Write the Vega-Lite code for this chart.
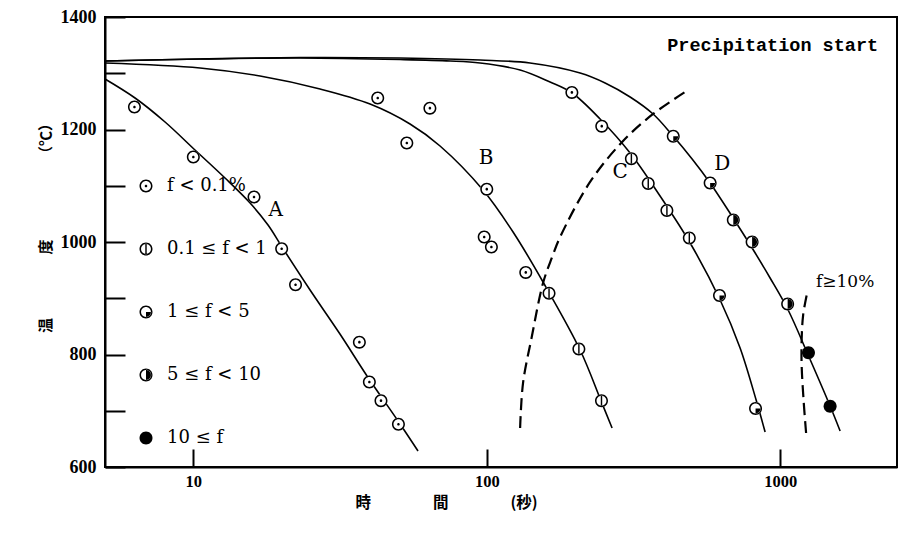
{
  "$schema": "https://vega.github.io/schema/vega-lite/v6.json",
  "width": 792,
  "height": 450,
  "autosize": {"type": "none"},
  "padding": {"left": 105, "top": 17, "right": 2, "bottom": 67},
  "background": "white",
  "config": {
    "view": {"stroke": "black", "strokeWidth": 2},
    "axis": {"grid": false, "domainColor": "black", "domainWidth": 2, "tickColor": "black", "tickWidth": 2, "labelColor": "black", "titleColor": "black"}
  },
  "datasets": {
    "pts": [
      {"t": 6.3, "T": 1240, "cat": "f < 0.1%"},
      {"t": 10, "T": 1151, "cat": "f < 0.1%"},
      {"t": 16.1, "T": 1080, "cat": "f < 0.1%"},
      {"t": 20, "T": 988, "cat": "f < 0.1%"},
      {"t": 22.3, "T": 924, "cat": "f < 0.1%"},
      {"t": 36.8, "T": 822, "cat": "f < 0.1%"},
      {"t": 39.8, "T": 751, "cat": "f < 0.1%"},
      {"t": 43.6, "T": 718, "cat": "f < 0.1%"},
      {"t": 50, "T": 676, "cat": "f < 0.1%"},
      {"t": 42.5, "T": 1256, "cat": "f < 0.1%"},
      {"t": 64, "T": 1238, "cat": "f < 0.1%"},
      {"t": 53.4, "T": 1176, "cat": "f < 0.1%"},
      {"t": 100, "T": 1094, "cat": "f < 0.1%"},
      {"t": 98, "T": 1009, "cat": "f < 0.1%"},
      {"t": 103.7, "T": 991, "cat": "f < 0.1%"},
      {"t": 135.8, "T": 946, "cat": "f < 0.1%"},
      {"t": 163, "T": 909, "cat": "0.1 ≤ f < 1"},
      {"t": 206, "T": 810, "cat": "0.1 ≤ f < 1"},
      {"t": 246, "T": 718, "cat": "0.1 ≤ f < 1"},
      {"t": 195, "T": 1266, "cat": "f < 0.1%"},
      {"t": 246.5, "T": 1206, "cat": "f < 0.1%"},
      {"t": 311, "T": 1148, "cat": "0.1 ≤ f < 1"},
      {"t": 355, "T": 1104, "cat": "0.1 ≤ f < 1"},
      {"t": 411, "T": 1056, "cat": "0.1 ≤ f < 1"},
      {"t": 490, "T": 1007, "cat": "0.1 ≤ f < 1"},
      {"t": 621, "T": 905, "cat": "1 ≤ f < 5"},
      {"t": 824, "T": 704, "cat": "1 ≤ f < 5"},
      {"t": 432, "T": 1188, "cat": "1 ≤ f < 5"},
      {"t": 577, "T": 1105, "cat": "1 ≤ f < 5"},
      {"t": 692, "T": 1039, "cat": "5 ≤ f < 10"},
      {"t": 802, "T": 1000, "cat": "5 ≤ f < 10"},
      {"t": 1060, "T": 890, "cat": "5 ≤ f < 10"},
      {"t": 1248, "T": 803, "cat": "10 ≤ f"},
      {"t": 1479, "T": 708, "cat": "10 ≤ f"}
    ],
    "curves": [
      {"c": "A", "i": 0, "t": 5, "T": 1289.8},
      {"c": "A", "i": 1, "t": 6.33, "T": 1256},
      {"c": "A", "i": 2, "t": 8.01, "T": 1213.3},
      {"c": "A", "i": 3, "t": 10.13, "T": 1163.6},
      {"c": "A", "i": 4, "t": 12.82, "T": 1113.8},
      {"c": "A", "i": 5, "t": 15.61, "T": 1069.3},
      {"c": "A", "i": 6, "t": 17.97, "T": 1030.2},
      {"c": "A", "i": 7, "t": 20.06, "T": 991.1},
      {"c": "A", "i": 8, "t": 24.99, "T": 914.7},
      {"c": "A", "i": 9, "t": 31.6, "T": 836.4},
      {"c": "A", "i": 10, "t": 39.7, "T": 756.4},
      {"c": "A", "i": 11, "t": 49.85, "T": 681.8},
      {"c": "A", "i": 12, "t": 58.3, "T": 628.4},
      {"c": "B", "i": 0, "t": 5, "T": 1318.2},
      {"c": "B", "i": 1, "t": 10.54, "T": 1309.3},
      {"c": "B", "i": 2, "t": 16.88, "T": 1295.1},
      {"c": "B", "i": 3, "t": 27.03, "T": 1272},
      {"c": "B", "i": 4, "t": 40.02, "T": 1245.3},
      {"c": "B", "i": 5, "t": 54.76, "T": 1209.8},
      {"c": "B", "i": 6, "t": 69.3, "T": 1170.7},
      {"c": "B", "i": 7, "t": 97.1, "T": 1092.4},
      {"c": "B", "i": 8, "t": 122.9, "T": 1017.8},
      {"c": "B", "i": 9, "t": 155.5, "T": 928.9},
      {"c": "B", "i": 10, "t": 208, "T": 808},
      {"c": "B", "i": 11, "t": 245.2, "T": 717.3},
      {"c": "B", "i": 12, "t": 267.3, "T": 669.3},
      {"c": "C", "i": 0, "t": 5, "T": 1321.8},
      {"c": "C", "i": 1, "t": 10.54, "T": 1325.3},
      {"c": "C", "i": 2, "t": 23.1, "T": 1327.1},
      {"c": "C", "i": 3, "t": 50.6, "T": 1324.4},
      {"c": "C", "i": 4, "t": 75, "T": 1321.8},
      {"c": "C", "i": 5, "t": 94.9, "T": 1318.2},
      {"c": "C", "i": 6, "t": 129.9, "T": 1305.8},
      {"c": "C", "i": 7, "t": 164.3, "T": 1284.4},
      {"c": "C", "i": 8, "t": 195.3, "T": 1264.9},
      {"c": "C", "i": 9, "t": 243.3, "T": 1218.7},
      {"c": "C", "i": 10, "t": 307.9, "T": 1158.2},
      {"c": "C", "i": 11, "t": 389.5, "T": 1081.8},
      {"c": "C", "i": 12, "t": 493.1, "T": 998.2},
      {"c": "C", "i": 13, "t": 624.1, "T": 896.9},
      {"c": "C", "i": 14, "t": 729.9, "T": 811.6},
      {"c": "C", "i": 15, "t": 827.8, "T": 719.1},
      {"c": "C", "i": 16, "t": 888.2, "T": 662.2},
      {"c": "D", "i": 0, "t": 5, "T": 1321.8},
      {"c": "D", "i": 1, "t": 10.54, "T": 1325.3},
      {"c": "D", "i": 2, "t": 23.1, "T": 1328},
      {"c": "D", "i": 3, "t": 50.6, "T": 1327.1},
      {"c": "D", "i": 4, "t": 94.9, "T": 1323.6},
      {"c": "D", "i": 5, "t": 140.4, "T": 1318.2},
      {"c": "D", "i": 6, "t": 208, "T": 1300.4},
      {"c": "D", "i": 7, "t": 253.1, "T": 1282.7},
      {"c": "D", "i": 8, "t": 307.9, "T": 1257.8},
      {"c": "D", "i": 9, "t": 368.8, "T": 1227.6},
      {"c": "D", "i": 10, "t": 431.4, "T": 1188.4},
      {"c": "D", "i": 11, "t": 500.9, "T": 1147.6},
      {"c": "D", "i": 12, "t": 576.8, "T": 1104.9},
      {"c": "D", "i": 13, "t": 691, "T": 1042.7},
      {"c": "D", "i": 14, "t": 802.1, "T": 989.3},
      {"c": "D", "i": 15, "t": 923.6, "T": 936},
      {"c": "D", "i": 16, "t": 1064, "T": 879.1},
      {"c": "D", "i": 17, "t": 1245, "T": 799.1},
      {"c": "D", "i": 18, "t": 1479, "T": 708.4},
      {"c": "D", "i": 19, "t": 1600, "T": 664}
    ],
    "dashes": [
      {"c": "P", "i": 0, "t": 129.9, "T": 669.3},
      {"c": "P", "i": 1, "t": 132.9, "T": 749.3},
      {"c": "P", "i": 2, "t": 142.3, "T": 831.1},
      {"c": "P", "i": 3, "t": 155.5, "T": 927.1},
      {"c": "P", "i": 4, "t": 167, "T": 973.3},
      {"c": "P", "i": 5, "t": 177.8, "T": 1008.9},
      {"c": "P", "i": 6, "t": 224.9, "T": 1106.7},
      {"c": "P", "i": 7, "t": 289.2, "T": 1177.8},
      {"c": "P", "i": 8, "t": 368.8, "T": 1227.6},
      {"c": "P", "i": 9, "t": 485.5, "T": 1270.2},
      {"c": "F", "i": 0, "t": 1225, "T": 660.4},
      {"c": "F", "i": 1, "t": 1201, "T": 719.1},
      {"c": "F", "i": 2, "t": 1183, "T": 781.3},
      {"c": "F", "i": 3, "t": 1183, "T": 825.8},
      {"c": "F", "i": 4, "t": 1197, "T": 870.2},
      {"c": "F", "i": 5, "t": 1235, "T": 909.3}
    ],
    "letters": [
      {"t": 19.1, "T": 1057, "txt": "A"},
      {"t": 99.4, "T": 1149, "txt": "B"},
      {"t": 284.6, "T": 1124, "txt": "C"},
      {"t": 634, "T": 1139, "txt": "D"}
    ],
    "fnote": [{"t": 1664, "T": 929, "txt": "f≥10%"}],
    "ptitle": [{"t": 2156, "T": 1350, "txt": "Precipitation start"}]
  },
  "encoding": {
    "x": {"field": "t", "type": "quantitative", "scale": {"type": "log", "domain": [5, 2500], "nice": false},
      "axis": {"values": [10, 100, 1000], "format": "d", "tickSize": -18, "labelPadding": 24, "labelFont": "Liberation Serif", "labelFontSize": 16.5, "labelFontWeight": "bold",
        "title": "時　　　　間　　　　(秒)", "titleFont": "Noto Sans CJK JP", "titleFontSize": 15.5, "titleFontWeight": "bold", "titleX": 341, "titleY": 35, "titleBaseline": "middle", "titleAnchor": "middle"}},
    "y": {"field": "T", "type": "quantitative", "scale": {"domain": [600, 1400], "nice": false, "zero": false},
      "axis": {"values": [600, 700, 800, 900, 1000, 1100, 1200, 1300, 1400], "labelExpr": "datum.value % 200 == 0 ? datum.label : ''", "format": "d", "tickSize": -20, "labelPadding": 29, "labelFont": "Liberation Serif", "labelFontSize": 18, "labelFontWeight": "bold",
        "title": "温　　　　   度　　　　　  （℃）", "titleFont": "Noto Sans CJK JP", "titleFontSize": 15, "titleFontWeight": "bold", "titleX": -60, "titleY": 207, "titleAngle": -90, "titleBaseline": "middle", "titleAnchor": "middle"}}
  },
  "layer": [
    {"data": {"name": "curves"}, "mark": {"type": "line", "color": "black", "strokeWidth": 1.6, "interpolate": "catmull-rom"},
      "encoding": {"detail": {"field": "c"}, "order": {"field": "i", "type": "quantitative"}}},
    {"data": {"name": "dashes"}, "mark": {"type": "line", "color": "black", "strokeWidth": 2.2, "strokeDash": [12, 6], "interpolate": "catmull-rom"},
      "encoding": {"detail": {"field": "c"}, "order": {"field": "i", "type": "quantitative"}}},
    {"data": {"name": "pts"}, "mark": {"type": "point", "filled": true, "color": "white", "size": 169, "opacity": 1, "shape": "circle"}},
    {"data": {"name": "pts"}, "mark": {"type": "point", "filled": true, "color": "black", "size": 169, "opacity": 1, "strokeWidth": 0},
      "encoding": {"shape": {"field": "cat", "type": "nominal",
        "scale": {"domain": ["f < 0.1%", "0.1 ≤ f < 1", "1 ≤ f < 5", "5 ≤ f < 10", "10 ≤ f"],
          "range": [
            "M-1,0A1,1,0,1,0,1,0A1,1,0,1,0,-1,0Z M-0.76,0A0.76,0.76,0,1,1,0.76,0A0.76,0.76,0,1,1,-0.76,0Z M-0.2,0A0.2,0.2,0,1,1,0.2,0A0.2,0.2,0,1,1,-0.2,0Z",
            "M-1,0A1,1,0,1,0,1,0A1,1,0,1,0,-1,0Z M-0.76,0A0.76,0.76,0,1,1,0.76,0A0.76,0.76,0,1,1,-0.76,0Z M-0.11,-0.8L0.11,-0.8L0.11,0.8L-0.11,0.8Z",
            "M-1,0A1,1,0,1,0,1,0A1,1,0,1,0,-1,0Z M-0.76,0A0.76,0.76,0,1,1,0.76,0A0.76,0.76,0,1,1,-0.76,0Z M0,0L0.8,0A0.8,0.8,0,0,1,0,0.8Z",
            "M-1,0A1,1,0,1,0,1,0A1,1,0,1,0,-1,0Z M-0.76,0A0.76,0.76,0,1,1,0.76,0A0.76,0.76,0,1,1,-0.76,0Z M0,-0.8A0.8,0.8,0,0,1,0,0.8Z",
            "M-1,0A1,1,0,1,0,1,0A1,1,0,1,0,-1,0Z"
          ]},
        "legend": {"orient": "none", "legendX": 32, "legendY": 160, "title": null, "padding": 0, "symbolSize": 169, "symbolFillColor": "black", "symbolStrokeWidth": 0, "symbolOpacity": 1,
          "labelFont": "DejaVu Serif", "labelFontSize": 18, "labelColor": "black", "labelOffset": 12, "rowPadding": 45, "labelLimit": 300}}}},
    {"data": {"name": "letters"}, "mark": {"type": "text", "font": "DejaVu Serif", "fontSize": 20, "color": "black", "baseline": "middle", "align": "center"},
      "encoding": {"text": {"field": "txt"}}},
    {"data": {"name": "fnote"}, "mark": {"type": "text", "font": "DejaVu Serif", "fontSize": 17, "color": "black", "baseline": "middle", "align": "center"},
      "encoding": {"text": {"field": "txt"}}},
    {"data": {"name": "ptitle"}, "mark": {"type": "text", "font": "Liberation Mono", "fontSize": 18.5, "fontWeight": "bold", "color": "black", "baseline": "middle", "align": "right"},
      "encoding": {"text": {"field": "txt"}}}
  ]
}
